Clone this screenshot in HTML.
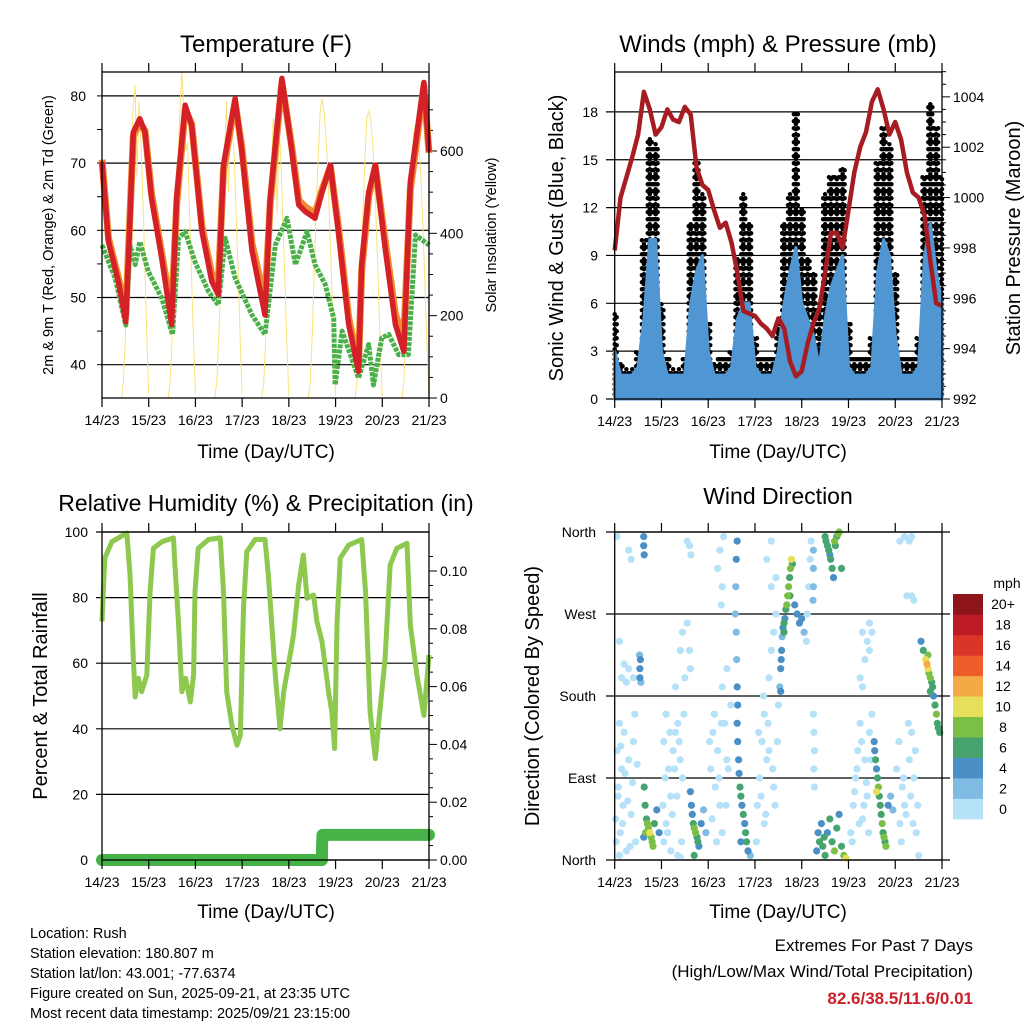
<!DOCTYPE html>
<html><head><meta charset="utf-8"><style>
html,body{margin:0;padding:0;background:#fff}
svg{display:block;font-family:"Liberation Sans",Arial,sans-serif}
</style></head><body>
<svg id="c" width="1024" height="1024" viewBox="0 0 1024 1024" xmlns="http://www.w3.org/2000/svg">
<rect width="1024" height="1024" fill="#fff"/>
<g id="g1"></g>
<g id="g2"></g>
<g id="g3"></g>
<g id="g4"></g>
<g font-size="14.5" fill="#000">
<text x="30" y="938">Location: Rush</text>
<text x="30" y="958">Station elevation: 180.807 m</text>
<text x="30" y="978">Station lat/lon: 43.001; -77.6374</text>
<text x="30" y="998">Figure created on Sun, 2025-09-21, at 23:35 UTC</text>
<text x="30" y="1018">Most recent data timestamp: 2025/09/21 23:15:00</text>
</g>
<g text-anchor="end">
<text x="973" y="951" font-size="17">Extremes For Past 7 Days</text>
<text x="973" y="977" font-size="17">(High/Low/Max Wind/Total Precipitation)</text>
<text x="973" y="1004" font-size="17" font-weight="bold" fill="#c8222a">82.6/38.5/11.6/0.01</text>
</g>
</svg>
<script>
// ---- temperature data (day offset from 14/23) ----
const dayLabels = ["14/23","15/23","16/23","17/23","18/23","19/23","20/23","21/23"];
const tTimes = [0,.14,.35,.51,.56,.67,.81,.92,1.06,1.28,1.49,1.6,1.78,1.92,2.14,2.35,2.49,2.6,2.85,2.99,3.21,3.49,3.6,3.85,4.06,4.21,4.35,4.56,4.71,4.89,5.06,5.28,5.49,5.56,5.71,5.85,6.06,6.28,6.46,6.6,6.89,7.0];
const temp2m = [70.2,58.3,52.4,46.4,55,74.6,76.6,74.6,64.8,55.8,46,65,78.6,75.6,59.8,52.4,50.4,69.7,79.6,72,57,47.4,64.8,82.6,72,63.8,62.8,61.8,65.7,69.7,59.8,46,39,54.9,65.7,69.7,57.4,46,42,67.2,82,71.7];
const temp9m = [70.5,58.8,53,47.5,56,74,76,74.8,65.5,56.5,47.8,64,78,75.8,60.5,53.5,52,69,79,72.5,58,49.5,64,82,72.5,64.5,63.5,62.5,66,69.5,60.5,47,40,54,65,69.5,58.5,47.5,44,66,81.5,71.5];
const tdTimes = [0,.28,.51,.6,.71,.81,.99,1.28,1.51,1.64,1.78,1.99,2.28,2.49,2.64,2.85,3.21,3.49,3.71,3.96,4.14,4.39,4.56,4.78,4.96,4.99,5.14,5.49,5.71,5.81,5.99,6.14,6.35,6.56,6.71,7.0];
const dewpoint = [57.8,52.9,45.9,57.8,54.9,58.3,53.9,49.9,44.5,58.8,59.8,55.3,50.9,48.9,58.8,52.9,47.4,44.5,57.8,61.8,54.9,59.8,54.9,51.9,46.9,37,45,38,43,37,44,44.5,41.5,41.5,59.3,57.8];
// hourly solar (W/m2) for hours 10..24 UTC of each day
const solarHours = [10,11,12,13,14,15,16,17,18,19,20,21,22,23,24];
const solar = [
 [0,40,150,300,440,600,700,760,540,720,630,480,330,150,10],
 [0,40,140,290,450,560,700,793,700,600,620,450,300,140,10],
 [0,40,150,280,430,600,720,500,700,650,580,430,300,140,10],
 [0,30,130,270,420,550,680,600,450,660,560,420,280,130,5],
 [0,40,150,300,450,580,690,728,700,640,560,420,280,130,5],
 [0,40,150,290,440,570,680,696,680,620,540,410,270,120,5],
 [0,35,140,280,420,560,640,663,640,600,520,400,260,120,0]];
const tTicks = [40,50,60,70,80];
const solarTicks = [0,200,400,600];
// ---- wind / pressure (3-hourly) ----
const windSpeed = [3,1.5,1.5,1.5,2,5,10,10, 3,1.5,1.5,1.5,1.5,6,8,9, 3,1.5,1.5,1.5,2,5,6,6, 2,1.5,1.5,1.5,3,6,8,9.5, 6,5,4,2,5,7,8,9, 2,1.5,1.5,1.5,2,8,10,9, 4,1.5,1.5,1.5,2,9,11,8, 6];
const windGust = [5.5,2.2,2,2,3,10,16.5,16, 6,2.5,2,2,2.5,11,15,13, 5,2.2,2.5,2.5,3,9,13,11, 4,2.5,2.5,2.5,5,11,13,18, 12,9,8,6,13,14,14,14.5, 5,2.5,2.5,2.5,4,15,17,16, 8,2.5,2.5,2.5,4,14,18.5,17, 14];
const pressure = [997.9,1000,1000.8,1001.6,1002.5,1004.2,1003.5,1002.5,1002.8,1003.5,1003.1,1003,1003.6,1003.3,1001.2,1000.5,1000.3,999.5,998.8,999,998.2,997,995.5,995.4,995.3,995,994.8,994.5,995.2,994.8,993.5,992.9,993.1,994.2,995,995.6,997,998.6,998.6,998,999.5,1001,1002,1002.6,1003.8,1004.3,1003.5,1002.5,1003,1002.3,1001,1000.2,1000,999.3,997.5,995.8,995.7];
const windTicks = [0,3,6,9,12,15,18];
const presTicks = [992,994,996,998,1000,1002,1004];
// ---- humidity / precip ----
const rhTimes = [0,.06,.21,.53,.6,.67,.71,.78,.85,.96,1.03,1.1,1.28,1.53,1.56,1.64,1.71,1.79,1.89,1.96,1.99,2.06,2.28,2.53,2.6,2.67,2.78,2.89,2.96,3.03,3.1,3.28,3.49,3.56,3.71,3.81,3.89,3.99,4.1,4.21,4.31,4.39,4.53,4.6,4.71,4.85,4.92,4.98,5.03,5.1,5.28,5.56,5.64,5.74,5.85,5.92,6.06,6.17,6.31,6.53,6.6,6.74,6.89,7.0];
const rhValues = [72.7,92,97,99.7,87,61.5,49.7,55.4,51.3,56.4,81.9,95,97,98.2,90,71.7,51.3,55.4,48.2,56.4,81.9,95,97.7,98.2,81.9,51.3,41,35,38,76.8,94,97.7,97.7,87,56.4,40,51.3,59.4,68.6,83.9,93,79.8,80.8,72.7,66.6,51.3,45.2,34,71.7,92,96,97.7,81.9,45.2,30.9,41.1,61.5,90,95,96.6,71.7,56.4,44.1,62.5];
const precipTimes = [0,4.71,4.71,4.72,7.0];
const precipValues = [0,0,0.004,0.0087,0.0087];
const rhTicks = [0,20,40,60,80,100];
const precipTicks = [0,0.02,0.04,0.06,0.08,0.10];
// ---- wind direction [day, degrees, mph] ----
const dirTimes = [0.02,0.05,0.08,0.1,0.12,0.15,0.18,0.2,0.25,0.3,0.35,0.4,0.45,0.05,0.3,0.35,0.4,0.3,0.25,0.1,
 0.54,0.54,0.55,0.56,0.53,0.63,0.65,0.68,0.72,0.75,0.78,0.8,0.82,0.85,0.9,0.95,0.62,0.66,0.7,0.62,0.62,0.63,
 1.05,1.1,1.15,1.2,1.25,1.3,1.35,1.4,1.45,1.05,1.1,1.2,1.35,1.4,1.5,1.55,1.6,1.62,1.55,1.6,1.63,
 1.62,1.64,1.66,1.68,1.7,1.73,1.76,1.78,1.8,1.85,1.9,1.95,1.7,
 2.05,2.1,2.15,2.2,2.25,2.3,2.35,2.4,2.2,2.25,2.3,2.28,2.33,
 2.62,2.6,2.59,2.58,2.6,2.61,2.62,2.63,2.62,2.63,2.65,2.66,2.68,2.7,2.72,2.75,2.78,2.8,2.82,2.85,2.7,2.9,
 3.05,3.1,3.15,3.2,3.25,3.3,3.35,3.4,3.45,3.35,3.3,3.5,3.2,3.4,
 3.55,3.56,3.57,3.58,3.6,3.62,3.64,3.66,3.68,3.7,3.72,3.74,3.76,3.78,3.8,3.75,3.62,3.85,3.9,3.95,4.0,4.05,3.55,3.53,
 4.25,4.25,4.25,4.24,4.25,4.26,4.27,4.26,4.27,
 4.5,4.52,4.55,4.58,4.6,4.62,4.65,4.68,4.7,4.72,4.75,4.78,4.85,4.8,
 4.32,4.35,4.38,4.42,4.45,4.48,4.5,4.55,4.6,4.65,4.7,4.75,4.8,4.85,4.9,4.95,
 5.05,5.1,5.15,5.2,5.25,5.3,5.35,5.4,5.45,5.5,5.3,5.35,5.4,5.45,
 5.55,5.56,5.58,5.6,5.62,5.64,5.66,5.68,5.7,5.72,5.74,5.76,5.78,5.8,5.6,5.85,5.9,5.95,
 6.1,6.15,6.2,6.3,6.35,6.4,6.45,6.5,6.1,6.2,6.35,6.4,
 6.55,6.6,6.65,6.68,6.7,6.72,6.75,6.78,6.8,6.82,6.85,6.88,6.9,6.92,6.95,6.7,6.75];
const dirDegrees = [45,120,80,150,30,100,60,140,10,110,50,130,20,355,340,330,200,210,195,5,
 200,210,220,195,225,80,60,45,35,30,25,20,15,40,55,30,25,30,40,355,345,335,
 130,160,100,70,120,140,150,110,90,20,40,10,5,3,200,260,230,210,350,345,335,
 75,60,50,40,35,30,25,20,15,40,55,30,5,
 100,140,80,120,60,30,150,110,320,340,300,280,355,
 350,330,300,270,250,220,190,170,150,130,110,95,80,70,60,50,40,30,20,10,20,5,
 60,90,130,160,110,200,230,250,270,300,120,170,40,80,
 210,220,230,245,255,260,265,275,280,290,300,310,320,330,325,290,250,280,270,260,265,250,185,190,
 340,320,300,285,160,140,120,100,80,
 355,350,345,340,335,330,320,310,350,345,355,358,320,360,
 10,30,20,40,15,25,5,30,45,20,10,35,50,15,5,2,
 30,60,90,120,150,45,110,70,140,160,250,220,240,260,
 130,120,110,100,90,80,70,60,50,40,30,25,20,15,75,60,70,55,
 40,80,60,110,140,90,30,5,350,355,290,285,
 240,230,220,215,210,205,200,195,190,180,170,160,150,145,140,225,185];
const dirSpeeds = [1,1,1,1,1,1,1,1,1,1,1,1,1,1,1,1,1,1,1,1,
 4,4,4,3,3,6,6,7,9,10,8,8,9,7,4,4,4,8,8,4,4,4,
 1,1,1,1,1,1,1,1,1,1,1,1,1,1,1,1,1,1,1,1,1,
 4,4,5,6,8,8,7,6,4,4,2,2,6,
 1,1,1,1,1,1,1,1,1,1,1,1,1,
 4,4,3,2,2,3,4,4,4,4,4,4,6,6,4,6,4,6,6,4,4,2,
 1,1,1,1,1,1,1,1,1,1,1,1,1,1,
 4,4,4,3,4,6,4,6,8,8,8,6,8,10,6,6,6,4,4,4,4,2,4,3,
 2,2,2,2,1,1,1,1,1,
 6,6,6,6,4,6,6,4,8,6,6,8,6,8,
 4,4,6,4,6,6,6,4,6,6,8,6,4,6,8,10,
 1,1,1,1,1,1,1,1,1,1,1,1,1,1,
 4,4,6,4,6,8,6,6,6,8,6,8,6,8,10,4,2,2,
 1,1,1,1,1,1,1,1,1,1,1,1,
 4,6,10,12,10,8,8,6,6,4,6,8,6,6,6,8,6];
// additional calm (0-2 mph) direction observations
const calmTimes = [0.03,0.07,0.13,0.17,0.22,0.28,0.33,0.38,0.43,0.48,0.15,0.2,0.1,
 1.03,1.08,1.13,1.18,1.23,1.28,1.33,1.38,1.43,1.48,1.3,1.4,1.45,
 2.03,2.08,2.13,2.18,2.23,2.28,2.38,2.43,2.48,2.3,2.4,
 3.03,3.08,3.13,3.18,3.23,3.28,3.38,3.43,3.48,3.25,3.35,3.45,
 4.1,4.15,4.2,4.12,4.18,
 5.08,5.13,5.18,5.23,5.28,5.33,5.38,5.43,5.48,5.25,5.3,5.5,5.45,
 6.03,6.08,6.13,6.18,6.23,6.28,6.33,6.38,6.43,6.48,6.3,6.35,6.25];
const calmDegrees = [20,70,125,40,95,65,15,85,160,105,200,215,240,
 60,90,30,140,50,100,70,130,20,160,190,230,250,
 130,45,160,20,90,150,60,100,170,190,210,
 20,140,70,180,50,150,100,60,130,330,350,310,
 240,300,350,270,330,
 20,75,100,40,130,60,85,30,110,200,190,250,230,
 100,130,20,90,50,150,70,40,120,60,350,355,290];
const dirTicks = [0,90,180,270,360];
const dirNames = ["North","East","South","West","North"];
const speedBins = ["0","2","4","6","8","10","12","14","16","18","20+"];
const binColors = ["#b5e2f8","#7fbbe3","#4a8fc6","#47a46f","#7cbf47","#e5df5a","#f5a946","#ee5e2b","#da3528","#bd1c25","#8d151a"];

const NS="http://www.w3.org/2000/svg";
function mk(parent,tag,attrs,txt){const e=document.createElementNS(NS,tag);for(const k in attrs)e.setAttribute(k,attrs[k]);if(txt!==undefined)e.textContent=txt;parent.appendChild(e);return e;}
function path(xs,ys,fx,fy){let d="";for(let i=0;i<xs.length;i++)d+=(i?"L":"M")+fx(xs[i]).toFixed(1)+","+fy(ys[i]).toFixed(1);return d;}

function frame(g,L,R,T,B,ticksX){
  let e;
  e=mk(g,"rect",{x:L,y:T,width:R-L,height:B-T,fill:"none",stroke:"#000","stroke-width":1.3});
  
  
  ticksX.forEach((lab,i)=>{
    const x=L+i*(R-L)/7;
    mk(g,"line",{x1:x,x2:x,y1:T,y2:T-9,stroke:"#000","stroke-width":1.2});
    mk(g,"line",{x1:x,x2:x,y1:B,y2:B+9,stroke:"#000","stroke-width":1.2});
    e=mk(g,"text",{x:x,y:B+27,"font-size":14,"text-anchor":"middle"},lab);
    
    
  });
}
function title(g,x,y,s,size,name){const e=mk(g,"text",{x:x,y:y,"font-size":size,"text-anchor":"middle"},s);return e;}
function vtitle(g,x,y,s,size,name){const e=mk(g,"text",{x:x,y:y,"font-size":size,"text-anchor":"middle",transform:`rotate(-90 ${x} ${y})`},s);return e;}

// ===== Panel 1 =====
(function(){
const g=document.getElementById("g1");
const L=102,R=429,T=72,B=398;
const X=d=>L+d*(R-L)/7, Y=v=>364.7-(v-40)*6.72, YS=s=>B-s*0.4117;
tTicks.forEach(v=>{
  let e=mk(g,"line",{x1:L,x2:R,y1:Y(v),y2:Y(v),stroke:"#000","stroke-width":1.2});
  
  
  e=mk(g,"text",{x:86,y:Y(v)+5,"font-size":14,"text-anchor":"end"},String(v));
  
  
});
for(let v=35;v<=85;v+=5){if(Y(v)>T&&Y(v)<B)mk(g,"line",{x1:L,x2:L-5,y1:Y(v),y2:Y(v),stroke:"#000"});}
for(let s=0;s<=700;s+=50){mk(g,"line",{x1:R,x2:R+(s%200?4:8),y1:YS(s),y2:YS(s),stroke:"#000"});}
solarTicks.forEach(s=>{const e=mk(g,"text",{x:440,y:YS(s)+5,"font-size":14},String(s));});
solar.forEach((row,di)=>{
  const e=mk(g,"path",{d:path(solarHours.map(h=>di+h/24),row,X,YS),fill:"none",stroke:"#f9e27a","stroke-width":1});
  
  
});
let e=mk(g,"path",{d:path(tTimes,temp9m,X,Y),fill:"none",stroke:"#f28a30","stroke-width":7,"stroke-linejoin":"round"});


e=mk(g,"path",{d:path(tdTimes,dewpoint,X,Y),fill:"none",stroke:"#4cb04a","stroke-width":5,"stroke-dasharray":"4 1.2","stroke-linejoin":"round"});


e=mk(g,"path",{d:path(tTimes,temp2m,X,Y),fill:"none",stroke:"#d42027","stroke-width":5.5,"stroke-linejoin":"round"});


frame(g,L,R,T,B,dayLabels);
title(g,266,52,"Temperature (F)",24,"temperature-title");
title(g,266,458,"Time (Day/UTC)",19,"x-axis-title");
vtitle(g,53,235,"2m & 9m T (Red, Orange) & 2m Td (Green)",14.5,"y-axis-title");
vtitle(g,496,235,"Solar Insolation (Yellow)",14.5,"y2-axis-title");
})();

// ===== Panel 2 =====
(function(){
const g=document.getElementById("g2");
const L=614.7,R=942,T=72,B=399;
const X=d=>L+d*(R-L)/7, Y=v=>B-v*15.95, YP=p=>B-(p-992)*25.18;
windTicks.forEach(v=>{
  let e=mk(g,"line",{x1:606,x2:R,y1:Y(v),y2:Y(v),stroke:"#000","stroke-width":1.2});
  
  
  e=mk(g,"text",{x:598,y:Y(v)+5,"font-size":14,"text-anchor":"end"},String(v));
  
  
});
for(let p=992;p<=1005;p+=0.5){mk(g,"line",{x1:R,x2:R+(p%2?4:8),y1:YP(p),y2:YP(p),stroke:"#000"});}
presTicks.forEach(p=>{const e=mk(g,"text",{x:953,y:YP(p)+5,"font-size":14},String(p));});
const gg=mk(g,"g",{});


const wg=mk(g,"g",{});


const ws=windSpeed.map((v,i)=>i/8);
windGust.forEach((v,i)=>{
  for(let k=-1;k<=1;k++){
    const x=X(ws[i])+k*2;
    if(x<L||x>R)continue;
    mk(gg,"line",{x1:x,x2:x,y1:Y(0.3),y2:Y(v),stroke:"#000","stroke-width":4.5,"stroke-linecap":"round","stroke-dasharray":"0 "+(k?7:5)});
  }
});
let d="M"+X(0)+","+Y(0);
windSpeed.forEach((v,i)=>{d+="L"+X(ws[i]).toFixed(1)+","+Y(v).toFixed(1);});
d+="L"+X(7)+","+Y(0)+"Z";
mk(wg,"path",{d:d,fill:"#4f96d2",stroke:"#4f96d2","stroke-width":3,"stroke-linejoin":"round"});
let e=mk(g,"path",{d:path(ws,pressure,X,YP),fill:"none",stroke:"#a51d22","stroke-width":4.5,"stroke-linejoin":"round"});


frame(g,L,R,T,B,dayLabels);
title(g,778,52,"Winds (mph) & Pressure (mb)",24,"winds-title");
title(g,778,458,"Time (Day/UTC)",19,"x-axis-title");
vtitle(g,563,238,"Sonic Wind & Gust (Blue, Black)",20,"y-axis-title");
vtitle(g,1020,238,"Station Pressure (Maroon)",20,"y2-axis-title");
})();

// ===== Panel 3 =====
(function(){
const g=document.getElementById("g3");
const L=102,R=429,T=532,B=860;
const X=d=>L+d*(R-L)/7, Y=v=>B-v*3.28, YQ=v=>B-v*2890;
rhTicks.forEach(v=>{
  let e=mk(g,"line",{x1:L-6,x2:R,y1:Y(v),y2:Y(v),stroke:"#000","stroke-width":1.2});
  
  
  e=mk(g,"text",{x:88,y:Y(v)+5,"font-size":14,"text-anchor":"end"},String(v));
  
  
});
for(let v=0;v<=0.11;v+=0.005){mk(g,"line",{x1:R,x2:R+(Math.round(v*1000)%20?4:8),y1:YQ(v),y2:YQ(v),stroke:"#000"});}
precipTicks.forEach(v=>{const e=mk(g,"text",{x:440,y:YQ(v)+5,"font-size":14},v.toFixed(2));});
let e=mk(g,"path",{d:path(rhTimes,rhValues,X,Y),fill:"none",stroke:"#8dc84f","stroke-width":5,"stroke-linejoin":"round"});


e=mk(g,"path",{d:path(precipTimes,precipValues,X,YQ),fill:"none",stroke:"#47b247","stroke-width":12,"stroke-linecap":"round","stroke-linejoin":"round"});


frame(g,L,R,T,B,dayLabels);
title(g,266,511,"Relative Humidity (%) & Precipitation (in)",23,"humidity-title");
title(g,266,918,"Time (Day/UTC)",19,"x-axis-title");
vtitle(g,47,696,"Percent & Total Rainfall",20,"y-axis-title");
})();

// ===== Panel 4 =====
(function(){
const g=document.getElementById("g4");
const L=614.7,R=942,T=532,B=860;
const X=d=>L+d*(R-L)/7, Y=v=>B-v*(B-T)/360;
dirTicks.forEach((v,i)=>{
  let e=mk(g,"line",{x1:606,x2:950,y1:Y(v),y2:Y(v),stroke:"#000","stroke-width":1.2});
  
  
  e=mk(g,"text",{x:596,y:Y(v)+5,"font-size":14,"text-anchor":"end"},dirNames[i]);
  
  
});
calmTimes.forEach((t,i)=>{
  const c=mk(g,"circle",{cx:X(t).toFixed(1),cy:Y(calmDegrees[i]).toFixed(1),r:3.6,fill:binColors[0]});
  
  
});
const order=dirSpeeds.map((s,i)=>i).sort((a,b)=>dirSpeeds[a]-dirSpeeds[b]);
order.forEach(i=>{
  const b=Math.min(10,Math.floor(dirSpeeds[i]/2));
  const c=mk(g,"circle",{cx:X(dirTimes[i]).toFixed(1),cy:Y(dirDegrees[i]).toFixed(1),r:3.6,fill:binColors[b]});
  
  
});
frame(g,L,R,T,B,dayLabels);
title(g,778,504,"Wind Direction",23,"wind-direction-title");
title(g,778,918,"Time (Day/UTC)",19,"x-axis-title");
vtitle(g,539,696,"Direction (Colored By Speed)",20,"y-axis-title");
const cb=mk(g,"g",{});


const top=594,h=(819-594)/11;
speedBins.forEach((lab,i)=>{
  const y=top+(10-i)*h;
  mk(cb,"rect",{x:953,y:y,width:30,height:h+0.3,fill:binColors[i]});
  const t=mk(cb,"text",{x:1003,y:y+h/2+5,"font-size":14,"text-anchor":"middle"},lab);
  
  
});
const u=mk(cb,"text",{x:1007,y:588,"font-size":14,"text-anchor":"middle"},"mph");


})();
</script>
</body></html>
